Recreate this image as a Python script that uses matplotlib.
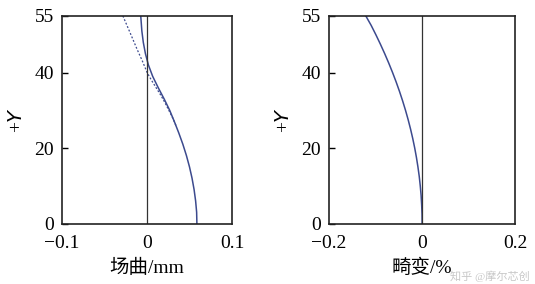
import matplotlib.pyplot as plt

plt.rcParams['font.family'] = ['Liberation Serif', 'Noto Sans CJK SC']
plt.rcParams['axes.unicode_minus'] = True

# field curvature (mm) vs field height +Y
fc_y = [0, 3, 6, 9, 12, 15, 18, 21, 24, 27, 30, 33, 36, 39, 42, 45, 48, 51, 55]
fc_solid = [0.0585, 0.0582, 0.0570, 0.0552, 0.0528, 0.0498, 0.0462, 0.0420,
            0.0372, 0.0320, 0.0265, 0.0200, 0.0130, 0.0065, 0.0015, -0.0020,
            -0.0045, -0.0062, -0.0075]
fc_dash_y = [26, 28, 30, 32, 34, 36, 38, 40, 43, 46, 50, 55]
fc_dash = [0.0338, 0.0300, 0.0255, 0.0210, 0.0160, 0.0105, 0.0050, 0.0,
           -0.0055, -0.0115, -0.0190, -0.0285]

# distortion (%) vs +Y
dist_y = [0, 2.5, 5, 7.5, 10, 12.5, 15, 17.5, 20, 22.5, 25, 27.5, 30,
          32.5, 35, 37.5, 40, 42.5, 45, 47.5, 50, 52.5, 55]
dist = [0.0, -0.0002, -0.0010, -0.0022, -0.0040, -0.0062, -0.0090, -0.0122,
        -0.0159, -0.0201, -0.0248, -0.0300, -0.0357, -0.0419, -0.0486, -0.0558,
        -0.0635, -0.0717, -0.0804, -0.0896, -0.0993, -0.1095, -0.1210]

line_c = '#3c4a8e'

fig = plt.figure(figsize=(5.35, 2.84), dpi=100)
ax1 = fig.add_axes([0.116, 0.213, 0.318, 0.731])
ax2 = fig.add_axes([0.615, 0.213, 0.348, 0.731])

ax1.plot(fc_dash, fc_dash_y, color=line_c, lw=0.9, ls=(0, (1.5, 1.5)))
ax1.plot(fc_solid, fc_y, color=line_c, lw=1.1)
ax1.axvline(0, color='#333333', lw=0.9)
ax1.set_xlim(-0.1, 0.1)
ax1.set_xticks([-0.1, 0, 0.1])
ax1.set_xticklabels(['\u22120.1', '0', '0.1'])
ax1.set_xlabel('场曲/mm', fontsize=14, labelpad=5)

ax2.plot(dist, dist_y, color=line_c, lw=1.1)
ax2.axvline(0, color='#333333', lw=0.9)
ax2.set_xlim(-0.2, 0.2)
ax2.set_xticks([-0.2, 0, 0.2])
ax2.set_xticklabels(['\u22120.2', '0', '0.2'])
ax2.set_xlabel('畸变/%', fontsize=14, labelpad=5)

for ax in (ax1, ax2):
    ax.set_ylim(0, 55)
    ax.set_yticks([0, 20, 40, 55])
    ax.set_ylabel('+$\\mathit{Y}$', fontsize=14, labelpad=6)
    ax.tick_params(axis='y', direction='in', length=4, width=1, labelsize=14, pad=6)
    ax.tick_params(axis='x', length=0, labelsize=14, pad=8)
    for s in ax.spines.values():
        s.set_linewidth(1.2)
        s.set_color('#222222')

# watermark
fig.text(0.99, 0.015, '知乎 @摩尔芯创', fontsize=8, color='#c8c8c8', ha='right')

fig.savefig('out.png', dpi=100)
